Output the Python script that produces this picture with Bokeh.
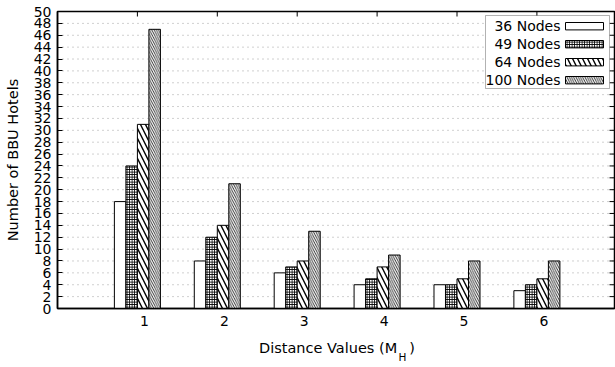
from bokeh.plotting import figure
from bokeh.models import FixedTicker, LinearAxis, Range1d, Label, BoxAnnotation
from bokeh.embed import file_html
from bokeh.resources import INLINE

# ---------------- data ----------------
distances = [1, 2, 3, 4, 5, 6]
tick_labels = ["1", "2", "3", "4", "5", "6"]
series_names = ["36 Nodes", "49 Nodes", "64 Nodes", "100 Nodes"]
nodes_36 = [18, 8, 6, 4, 4, 3]
nodes_49 = [24, 12, 7, 5, 4, 4]
nodes_64 = [31, 14, 8, 7, 5, 5]
nodes_100 = [47, 21, 13, 9, 8, 8]
y_ticks = list(range(0, 51, 2))
x_title = "Distance Values (M\u00a0\u00a0\u2009)"
x_title_sub = "H"
y_title = "Number of BBU Hotels"

series_values = [nodes_36, nodes_49, nodes_64, nodes_100]

# ---------------- styles ----------------
styles = [
    dict(fill_color="white", hatch_pattern=" ", hatch_scale=12, hatch_weight=1),
    dict(fill_color="white", hatch_pattern="+", hatch_scale=2.5, hatch_weight=1),
    dict(fill_color="white", hatch_pattern="\\", hatch_scale=10, hatch_weight=1.4),
    dict(fill_color="white", hatch_pattern="\\", hatch_scale=4.5, hatch_weight=0.8),
]
FONT = "DejaVu Sans"
BAR_W = 0.144
LABEL_SHIFT = 0.088
TICK_PX = 5

# layout (picture pixels = canvas pixels)
FIG_W, FIG_H = 615, 366
BORDER_L, BORDER_R, BORDER_T, BORDER_B = 57, 1, 11, 58
FRAME_W = FIG_W - BORDER_L - BORDER_R
FRAME_H = FIG_H - BORDER_T - BORDER_B
PX_X = 79.9
X_MAX = FRAME_W / PX_X
Y_MAX = 50
PX_Y = FRAME_H / Y_MAX
FRAME_LEFT = BORDER_L
FRAME_BOTTOM = BORDER_T + FRAME_H


def dx(px):
    return (px - FRAME_LEFT) / PX_X


def dy(py):
    return (FRAME_BOTTOM - py) / PX_Y


p = figure(width=FIG_W, height=FIG_H, output_backend="svg", toolbar_location=None,
           x_range=Range1d(0, X_MAX), y_range=Range1d(0, Y_MAX),
           min_border_left=BORDER_L, min_border_right=BORDER_R,
           min_border_top=BORDER_T, min_border_bottom=BORDER_B,
           x_axis_location=None, y_axis_location=None)
p.title.visible = False
p.background_fill_color = "white"
p.border_fill_color = "white"
p.outline_line_color = "black"
p.outline_line_width = 1.5
p.xgrid.visible = False
p.ygrid.visible = False

# dotted horizontal grid lines at the y ticks
grid_vals = [v for v in y_ticks if 0 < v < Y_MAX]
p.segment(x0=[0] * len(grid_vals), x1=[X_MAX] * len(grid_vals), y0=grid_vals, y1=grid_vals,
          line_color="#a0a0a0", line_width=1, line_dash="1 4", level="underlay")

# bars
offsets = [-1.5, -0.5, 0.5, 1.5]
for vals, off, st in zip(series_values, offsets, styles):
    p.vbar(x=[d + off * BAR_W for d in distances], top=vals, bottom=0, width=BAR_W,
           line_color="black", line_width=1, hatch_color="black", **st)

# mirrored inward ticks on the right and top borders
p.segment(x0=[X_MAX] * len(y_ticks), x1=[X_MAX - TICK_PX / PX_X] * len(y_ticks),
          y0=y_ticks, y1=y_ticks, line_color="black", line_width=1)
p.segment(x0=distances, x1=distances, y0=[Y_MAX] * len(distances),
          y1=[Y_MAX - TICK_PX / PX_Y] * len(distances), line_color="black", line_width=1)

# axes
left = LinearAxis(ticker=FixedTicker(ticks=y_ticks), axis_label=y_title)
bottom = LinearAxis(ticker=FixedTicker(ticks=[d + LABEL_SHIFT for d in distances]))
bottom.major_label_overrides = {d + LABEL_SHIFT: t for d, t in zip(distances, tick_labels)}

# x-axis title, carried as a single tick label of two extra (line-less) bottom axes
title_x = dx(336.5)
sub_x = dx(402)
title_axis = LinearAxis(ticker=FixedTicker(ticks=[title_x]))
title_axis.major_label_overrides = {title_x: x_title}
sub_axis = LinearAxis(ticker=FixedTicker(ticks=[sub_x]))
sub_axis.major_label_overrides = {sub_x: x_title_sub}

for ax in (left, bottom, title_axis, sub_axis):
    ax.axis_line_color = "black"
    ax.axis_line_width = 1.5
    ax.major_tick_line_color = "black"
    ax.major_tick_line_width = 1
    ax.major_tick_out = 0
    ax.major_tick_in = TICK_PX
    ax.minor_tick_line_color = None
    ax.major_label_text_font = FONT
    ax.major_label_text_font_size = "14px"
    ax.major_label_text_color = "black"
    ax.axis_label_text_font = FONT
    ax.axis_label_text_font_size = "14.5px"
    ax.axis_label_text_font_style = "normal"
    ax.axis_label_text_color = "black"

left.major_label_standoff = 6
left.axis_label_standoff = 10
bottom.major_tick_in = 0
bottom.major_label_standoff = 7
for ax in (title_axis, sub_axis):
    ax.axis_line_color = None
    ax.major_tick_line_color = None
    ax.major_tick_in = 0
title_axis.major_label_text_font_size = "14.5px"
title_axis.major_label_standoff = 11
sub_axis.major_label_text_font_size = "10.5px"
sub_axis.major_label_standoff = -8

p.add_layout(left, "left")
p.add_layout(bottom, "below")
p.add_layout(title_axis, "below")
p.add_layout(sub_axis, "below")

# legend (text on the left, sample on the right)
LEG_L, LEG_R, LEG_T, LEG_B = 485, 609, 15, 88
p.add_layout(BoxAnnotation(left=dx(LEG_L), right=dx(LEG_R), top=dy(LEG_T), bottom=dy(LEG_B),
                           fill_color="white", fill_alpha=1, line_color="black", line_width=1,
                           level="overlay"))
for i, (name, st) in enumerate(zip(series_names, styles)):
    ry = LEG_T + 10.7 + 18 * i
    p.add_layout(Label(x=dx(LEG_R - 49), y=dy(ry), text=name, text_align="right",
                       text_baseline="middle", text_font=FONT, text_font_size="14px",
                       text_color="black", level="overlay"))
    p.add_layout(BoxAnnotation(left=dx(LEG_R - 44), right=dx(LEG_R - 6),
                               top=dy(ry - 3.7), bottom=dy(ry + 3.7),
                               fill_alpha=1, line_color="black", line_width=1, line_alpha=1,
                               hatch_color="black", level="overlay", **st))

open("out.html", "w").write(file_html(p, INLINE))
